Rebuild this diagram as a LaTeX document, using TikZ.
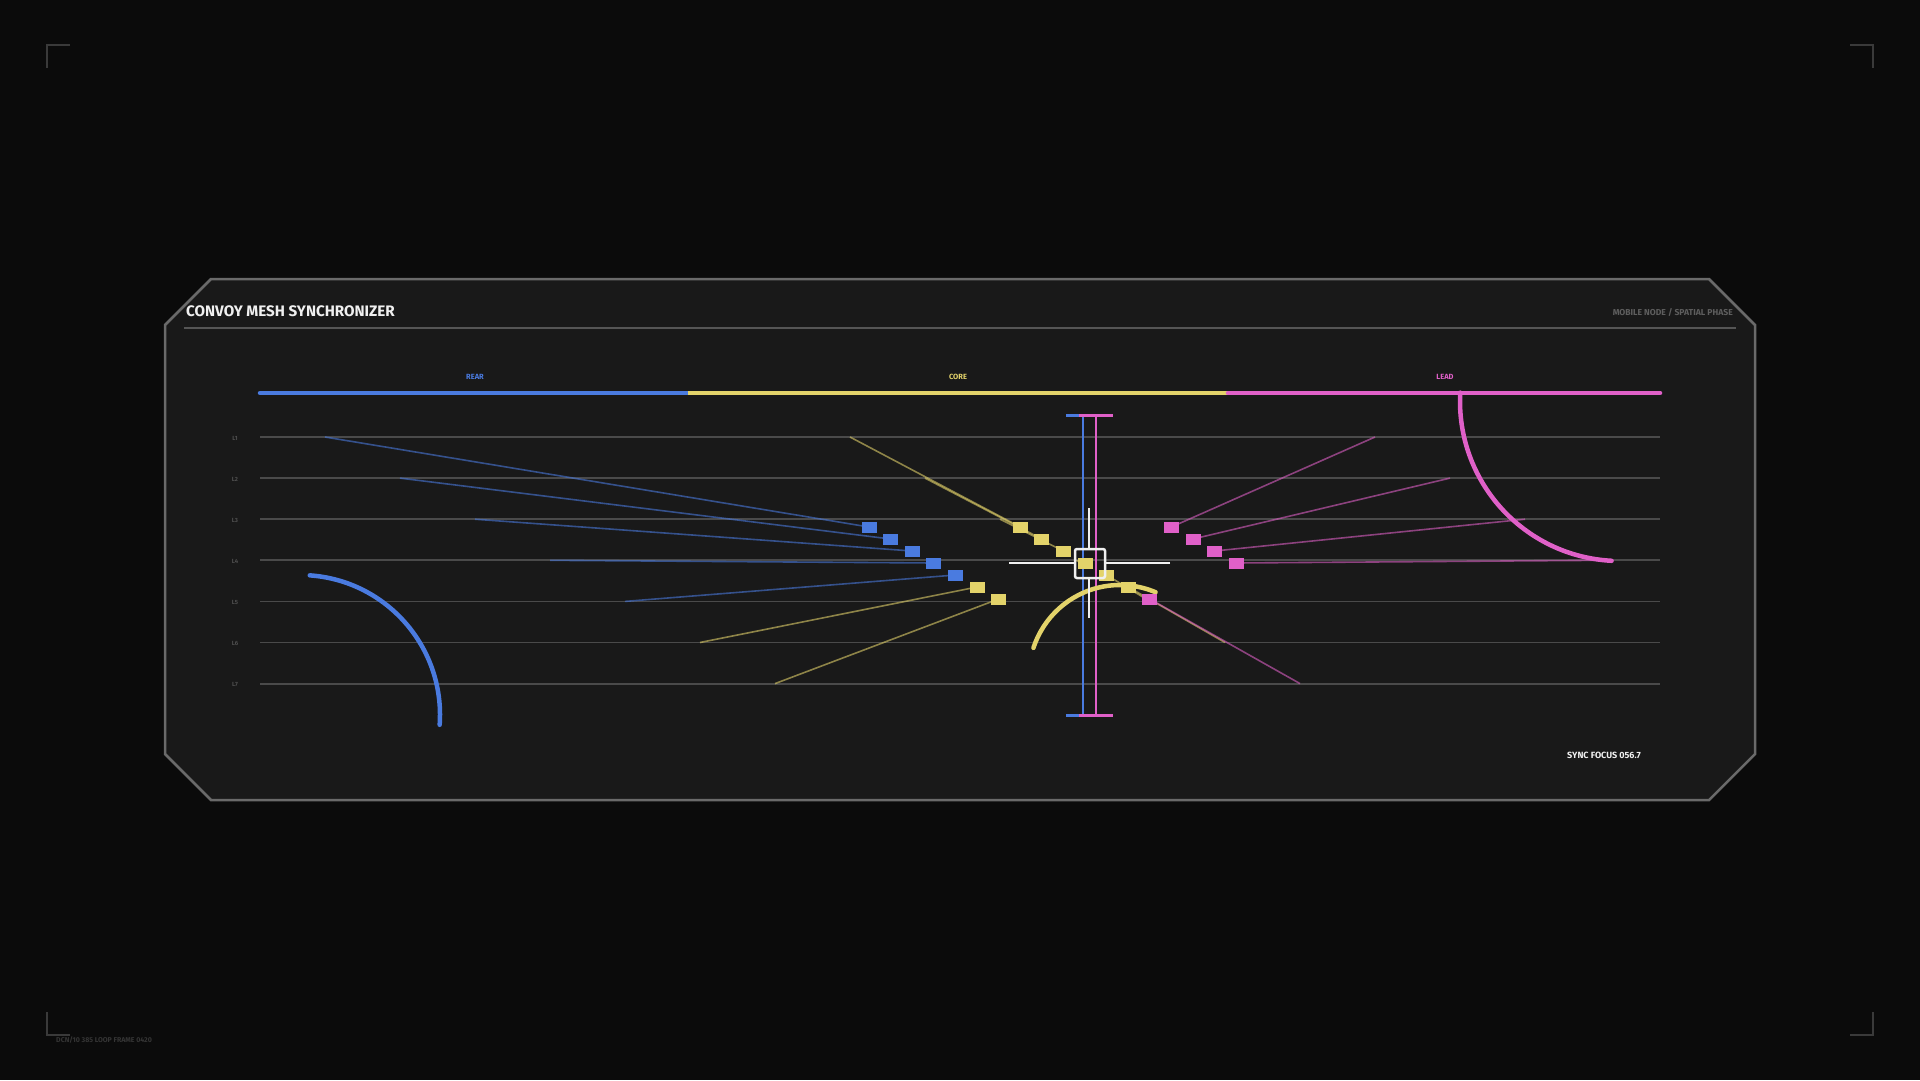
\documentclass[tikz,border=0pt]{standalone}
\usepackage{fontspec}
\setsansfont{Fira Sans}
\usetikzlibrary{calc}
\definecolor{bgc}{HTML}{0B0B0B}
\definecolor{panelc}{HTML}{191919}
\definecolor{framec}{HTML}{6A6A6A}
\definecolor{divc}{HTML}{555555}
\definecolor{lanec}{HTML}{4A4A4A}
\definecolor{lanetxt}{HTML}{4E4E4E}
\definecolor{subc}{HTML}{5E5E5E}
\definecolor{cornc}{HTML}{3A3A3A}
\definecolor{foottxt}{HTML}{353535}
\definecolor{cblue}{HTML}{4A7BE0}
\definecolor{cyel}{HTML}{E3D36A}
\definecolor{cpink}{HTML}{E060C8}
\definecolor{wht}{HTML}{F0F0F0}
\pgfdeclarelayer{back}
\pgfdeclarelayer{mid}
\pgfsetlayers{back,mid,main}
\tikzset{
  sq/.style={rectangle, minimum width=15, minimum height=11, inner sep=0, draw=none},
  link/.style={line width=1.6, draw opacity=0.58},
  lanel/.style={draw=lanec, line width=1.8},
  lanetag/.style={text=lanetxt, font=\sffamily\bfseries\fontsize{6}{7}\selectfont, inner sep=0},
  track/.style={line width=4.5},
  tracktag/.style={font=\sffamily\bfseries\fontsize{7.5}{8}\selectfont, inner sep=0},
  arcl/.style={line width=4.5, line cap=round},
  vline/.style={line width=2.5},
  vcap/.style={line width=3},
  reticle/.style={draw=wht, line width=2.5, rounded corners=2, minimum width=30, minimum height=29, inner sep=0},
  retline/.style={draw=wht, line width=2.7},
  corner/.style={draw=cornc, line width=2},
}
\begin{document}
\begin{tikzpicture}[x=1pt,y=-1pt]
\begin{pgfonlayer}{back}
\fill[bgc] (0,0) rectangle (1920,1080);
\draw[framec, line width=2.5, fill=panelc]
  (211,279) -- (1709,279) -- (1755,325) -- (1755,754) -- (1709,800)
  -- (211,800) -- (165,754) -- (165,325) -- cycle;
\draw[divc, line width=2] (184,328) -- (1736,328);
% lanes
\foreach \k in {1,...,7} {
  \draw[lanel] (260,{437+41.1*(\k-1)}) -- (1660,{437+41.1*(\k-1)});
  \node[lanetag] (lt\k) at (235,{438+41.1*(\k-1)}) {L\k};
}
\end{pgfonlayer}
\useasboundingbox (0,0) rectangle (1920,1080);

% corner marks
\draw[corner] (47,68) -- (47,45) -- (70,45);
\draw[corner] (1850,45) -- (1873,45) -- (1873,68);
\draw[corner] (47,1012) -- (47,1035) -- (70,1035);
\draw[corner] (1850,1035) -- (1873,1035) -- (1873,1012);

% title
\node[anchor=west, inner sep=0, text=wht, font=\sffamily\bfseries\fontsize{15.2}{18}\selectfont] (title) at (186,311) {CONVOY MESH SYNCHRONIZER};
\node[anchor=east, inner sep=0, text=subc, font=\sffamily\bfseries\fontsize{8.6}{9}\selectfont] (sub) at (1733,312) {MOBILE NODE / SPATIAL PHASE};

% track bar
\draw[track, cblue, line cap=round] (260,393) -- (688,393);
\draw[track, cyel] (688,393) -- (1228,393);
\draw[track, cpink, line cap=round] (1228,393) -- (1660,393);
\node[tracktag, text=cblue] (rear) at (475,377) {REAR};
\node[tracktag, text=cyel] (core) at (958,377) {CORE};
\node[tracktag, text=cpink] (lead) at (1445,377) {LEAD};

% vertical sync bars
\draw[vline, cblue] (1083,415) -- (1083,715);
\draw[vcap, cblue] (1066,415) -- (1100,415);
\draw[vcap, cblue] (1066,715) -- (1100,715);
\draw[vline, cpink] (1096,415) -- (1096,715);
\draw[vcap, cpink] (1079,415) -- (1113,415);
\draw[vcap, cpink] (1079,715) -- (1113,715);

% arcs
\draw[arcl, cblue] ([shift={(-86:140)}]300,715) arc[start angle=-86, end angle=4, radius=140];
\draw[arcl, cpink] ([shift={(-177:160)}]1620,401) arc[start angle=-177, end angle=-267, radius=160];
\draw[arcl, cyel] ([shift={(-162:91)}]1120,676) arc[start angle=-162, end angle=-67, radius=91];

% nodes and connectors
\foreach \i/\c in {0/cblue,1/cblue,2/cblue,3/cblue,4/cblue,
                   5/cyel,6/cyel,7/cyel,8/cyel,9/cyel,10/cyel,11/cyel,12/cyel,
                   13/cpink,14/cpink,15/cpink,16/cpink,17/cpink} {
  \pgfmathtruncatemacro\k{mod(\i,7)}
  \coordinate (a\i) at ({325+75*\i},{437+41.1*\k});
  \node[sq, fill=\c] (n\i) at ({869+21.6*\i},{527+12*\k}) {};
  \begin{pgfonlayer}{mid}
    \draw[link, \c] (a\i) -- (n\i.center);
  \end{pgfonlayer}
}

% white reticle
\node[reticle] (ret) at (1090,563.5) {};
\coordinate (rl) at (1009,563);
\coordinate (rr) at (1170,563);
\coordinate (rt) at (1089,508);
\coordinate (rb) at (1089,618);
\draw[retline] (rl) -- (rl -| ret.west);
\draw[retline] (rr) -- (rr -| ret.east);
\draw[retline] (rt) -- (rt |- ret.north);
\draw[retline] (rb) -- (rb |- ret.south);

% labels
\node[anchor=west, inner sep=0, text=wht, font=\sffamily\bfseries\fontsize{9}{10}\selectfont] (sync) at (1567,755) {SYNC FOCUS 056.7};
\node[anchor=west, inner sep=0, text=foottxt, font=\sffamily\bfseries\fontsize{7}{8}\selectfont] (foot) at (56,1040) {DCN/10 385 LOOP FRAME 0420};
\end{tikzpicture}
\end{document}
